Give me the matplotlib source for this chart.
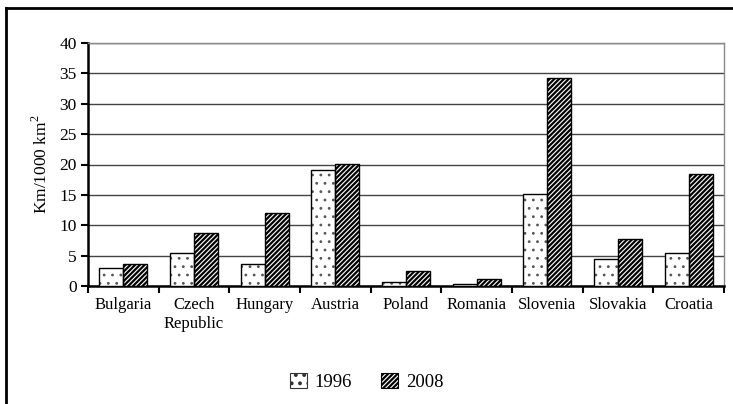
import numpy as np
import matplotlib
matplotlib.use('Agg')
import matplotlib.pyplot as plt
from matplotlib.lines import Line2D

countries = ['Bulgaria', 'Czech\nRepublic', 'Hungary', 'Austria', 'Poland',
             'Romania', 'Slovenia', 'Slovakia', 'Croatia']
y1996 = [3.0, 5.4, 3.7, 19.1, 0.7, 0.3, 15.2, 4.4, 5.5]
y2008 = [3.6, 8.7, 12.0, 20.1, 2.4, 1.1, 34.2, 7.7, 18.4]
yticks = [0, 5, 10, 15, 20, 25, 30, 35, 40]

plt.rcParams['font.family'] = ['Liberation Serif', 'DejaVu Serif']
plt.rcParams['mathtext.fontset'] = 'custom'
plt.rcParams['mathtext.rm'] = 'Liberation Serif'

W, H = 733, 404
fig = plt.figure(figsize=(W / 100, H / 100), dpi=100)
ax = fig.add_axes([88 / W, 1 - 286 / H, (724 - 88) / W, (286 - 43) / H])

x = np.arange(len(countries))
bw = 0.34

# 1996: grey dot fill, then black outline on top
plt.rcParams['hatch.linewidth'] = 0.8
ax.bar(x - bw / 2, y1996, bw, color='white', edgecolor='#555555', linewidth=0,
       hatch='..', zorder=3)
ax.bar(x - bw / 2, y1996, bw, facecolor='none', edgecolor='black', linewidth=1,
       zorder=4)

# 2008: dense diagonal stripes
plt.rcParams['hatch.linewidth'] = 1.6
ax.bar(x + bw / 2, y2008, bw, color='white', edgecolor='black', linewidth=1,
       hatch='///////', zorder=3)

# legend proxies
plt.rcParams['hatch.linewidth'] = 0.8
from matplotlib.patches import Patch
h1 = Patch(facecolor='white', edgecolor='#333333', hatch='..', linewidth=0.8)
plt.rcParams['hatch.linewidth'] = 1.6
h2 = Patch(facecolor='white', edgecolor='black', hatch='///////', linewidth=0.8)

ax.set_xlim(-0.5, len(countries) - 0.5)
ax.set_ylim(0, 40)
ax.set_yticks(yticks)
ax.yaxis.grid(True, color='#444444', linewidth=1, zorder=0)
ax.set_axisbelow(True)

# category ticks sit on the boundaries between groups
ax.set_xticks(np.arange(len(countries) + 1) - 0.5)
ax.set_xticklabels([])
ax.set_xticks(x, minor=True)
ax.set_xticklabels(countries, minor=True, fontsize=12)
ax.tick_params(axis='x', which='minor', length=0, pad=8)
ax.tick_params(axis='x', which='major', direction='out', length=5, width=1.5)
ax.tick_params(axis='y', direction='out', length=5, width=1.5, labelsize=12.5, pad=3)

for s in ['left', 'bottom']:
    ax.spines[s].set_linewidth(1.8)
    ax.spines[s].set_color('black')
for s in ['top', 'right']:
    ax.spines[s].set_linewidth(1)
    ax.spines[s].set_color('#888888')

ax.set_ylabel('Km/1000 km$^2$', fontsize=12.5, labelpad=6)

fig.legend([h1, h2], ['1996', '2008'], loc='center',
           bbox_to_anchor=(0.5, 1 - 382 / H), ncol=2, frameon=False,
           fontsize=13.5, handlelength=0.9, handleheight=0.9, handletextpad=0.4,
           columnspacing=1.6)

# outer chart frame
fig.add_artist(Line2D([6 / W, 6 / W], [0, 1 - 8 / H], color='black', linewidth=2))
fig.add_artist(Line2D([6 / W, 1], [1 - 8 / H, 1 - 8 / H], color='black', linewidth=2))

fig.savefig('out.png', dpi=100)
